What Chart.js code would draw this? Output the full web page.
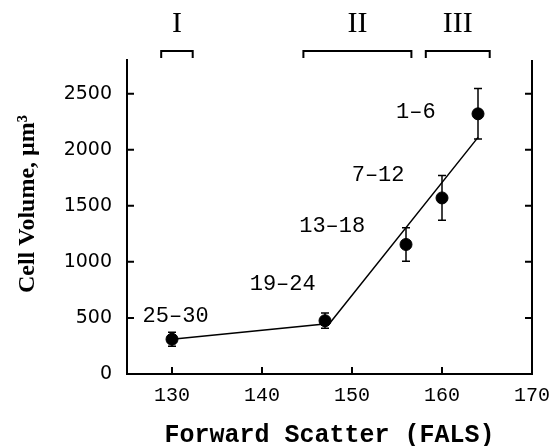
<!DOCTYPE html>
<html>
<head>
<meta charset="utf-8">
<script src="https://cdn.jsdelivr.net/npm/chart.js@4.4.1/dist/chart.umd.min.js"></script>
<style>
  html, body { margin: 0; padding: 0; background: #fff; }
  canvas { display: block; }
</style>
</head>
<body>
<canvas id="myChart" width="557" height="446"></canvas>
<script>
// measured points (mean +/- error)
const scatterX = [130, 147, 156, 160, 164];
const volume = [310, 475, 1155, 1570, 2320];
const volumeErr = [62, 68, 150, 200, 225];

// fitted two-segment line
const fitX = [130, 147.5, 164];
const fitY = [310, 450, 2110];

// group labels next to the points
const groupLabels = ['25–30', '19–24', '13–18', '7–12', '1–6'];
const groupLabelX = [130.4, 142.3, 147.8, 152.9, 157.1];
const groupLabelY = [516, 800, 1320, 1770, 2331];

// phase brackets above the plot
const phaseNames = ['I', 'II', 'III'];
const phaseStart = [128.8, 144.6, 158.2];
const phaseEnd = [132.3, 156.6, 165.3];

const xTicks = [130, 140, 150, 160, 170];
const yTicks = [0, 500, 1000, 1500, 2000, 2500];

const toPoints = (xs, ys) => xs.map((x, i) => ({ x: x, y: ys[i] }));

const extras = {
    id: 'extras',
    afterDatasetsDraw(chart) {
        const ctx = chart.ctx;
        const area = chart.chartArea;
        const xs = chart.scales.x;
        const ys = chart.scales.y;
        ctx.save();
        ctx.strokeStyle = '#000';
        ctx.fillStyle = '#000';

        // error bars
        ctx.lineWidth = 1.5;
        scatterX.forEach((xv, i) => {
            const px = xs.getPixelForValue(xv);
            const top = ys.getPixelForValue(volume[i] + volumeErr[i]);
            const bot = ys.getPixelForValue(volume[i] - volumeErr[i]);
            ctx.beginPath();
            ctx.moveTo(px, top); ctx.lineTo(px, bot);
            ctx.moveTo(px - 4, top); ctx.lineTo(px + 4, top);
            ctx.moveTo(px - 4, bot); ctx.lineTo(px + 4, bot);
            ctx.stroke();
        });

        // right axis and inward ticks
        ctx.lineWidth = 2;
        ctx.beginPath();
        ctx.moveTo(area.right, area.top);
        ctx.lineTo(area.right, area.bottom + 1);
        yTicks.forEach(v => {
            const py = ys.getPixelForValue(v);
            ctx.moveTo(area.left, py); ctx.lineTo(area.left + 7, py);
            ctx.moveTo(area.right, py); ctx.lineTo(area.right - 7, py);
        });
        xTicks.forEach(v => {
            const px = xs.getPixelForValue(v);
            ctx.moveTo(px, area.bottom); ctx.lineTo(px, area.bottom - 7);
        });
        ctx.stroke();

        // group labels
        ctx.font = '22px "Liberation Mono"';
        ctx.textAlign = 'center';
        ctx.textBaseline = 'middle';
        groupLabels.forEach((t, i) => {
            ctx.fillText(t, xs.getPixelForValue(groupLabelX[i]), ys.getPixelForValue(groupLabelY[i]));
        });

        // phase brackets
        ctx.lineWidth = 2;
        ctx.font = '30px "Liberation Serif"';
        ctx.textBaseline = 'alphabetic';
        phaseNames.forEach((t, i) => {
            const a = xs.getPixelForValue(phaseStart[i]);
            const b = xs.getPixelForValue(phaseEnd[i]);
            ctx.beginPath();
            ctx.moveTo(a, area.top - 2);
            ctx.lineTo(a, area.top - 9);
            ctx.lineTo(b, area.top - 9);
            ctx.lineTo(b, area.top - 2);
            ctx.stroke();
            ctx.fillText(t, (a + b) / 2, 32);
        });

        // y axis title
        ctx.font = 'bold 24px "Liberation Serif"';
        ctx.translate(28, 204);
        ctx.rotate(-Math.PI / 2);
        ctx.textBaseline = 'middle';
        ctx.fillText('Cell Volume, µm³', 0, 0);
        ctx.restore();
    }
};

const data = {
    datasets: [{
        label: 'Fit',
        data: toPoints(fitX, fitY),
        showLine: true,
        borderColor: '#000',
        borderWidth: 1.5,
        pointRadius: 0,
        order: 2
    },
    {
        label: 'Cell volume',
        data: toPoints(scatterX, volume),
        backgroundColor: '#000',
        borderColor: '#000',
        pointRadius: 6,
        order: 1
    }]
};

const config = {
    type: 'scatter',
    data: data,
    options: {
        responsive: false,
        animation: false,
        layout: { padding: { top: 60, right: 25, left: 0, bottom: 0 } },
        plugins: { legend: { display: false }, tooltip: { enabled: false } },
        scales: {
            x: {
                type: 'linear',
                min: 125,
                max: 170,
                afterBuildTicks: s => { s.ticks = xTicks.map(v => ({ value: v })); },
                afterFit: s => { s.height = 72; s.paddingLeft = 0; s.paddingRight = 0; },
                grid: { display: false, drawTicks: false },
                border: { display: true, color: '#000', width: 2 },
                ticks: {
                    color: '#000',
                    padding: 10,
                    maxRotation: 0,
                    font: { family: 'Liberation Mono', size: 20 },
                    callback: v => String(v)
                },
                title: {
                    display: true,
                    text: 'Forward Scatter (FALS)',
                    color: '#000',
                    padding: 0,
                    font: { family: 'Liberation Mono', size: 25, weight: 'bold', lineHeight: 0.8 }
                }
            },
            y: {
                type: 'linear',
                min: 0,
                max: 2800,
                afterBuildTicks: s => { s.ticks = yTicks.map(v => ({ value: v })); },
                afterFit: s => { s.width = 127; s.paddingTop = 0; s.paddingBottom = 0; },
                grid: { display: false, drawTicks: false },
                border: { display: true, color: '#000', width: 2 },
                ticks: {
                    color: '#000',
                    padding: 15,
                    font: { family: 'DejaVu Sans', size: 19 },
                    callback: v => String(v)
                }
            }
        }
    },
    plugins: [extras]
};

var myChart = new Chart(
    document.getElementById('myChart'),
    config
);
</script>
</body>
</html>
